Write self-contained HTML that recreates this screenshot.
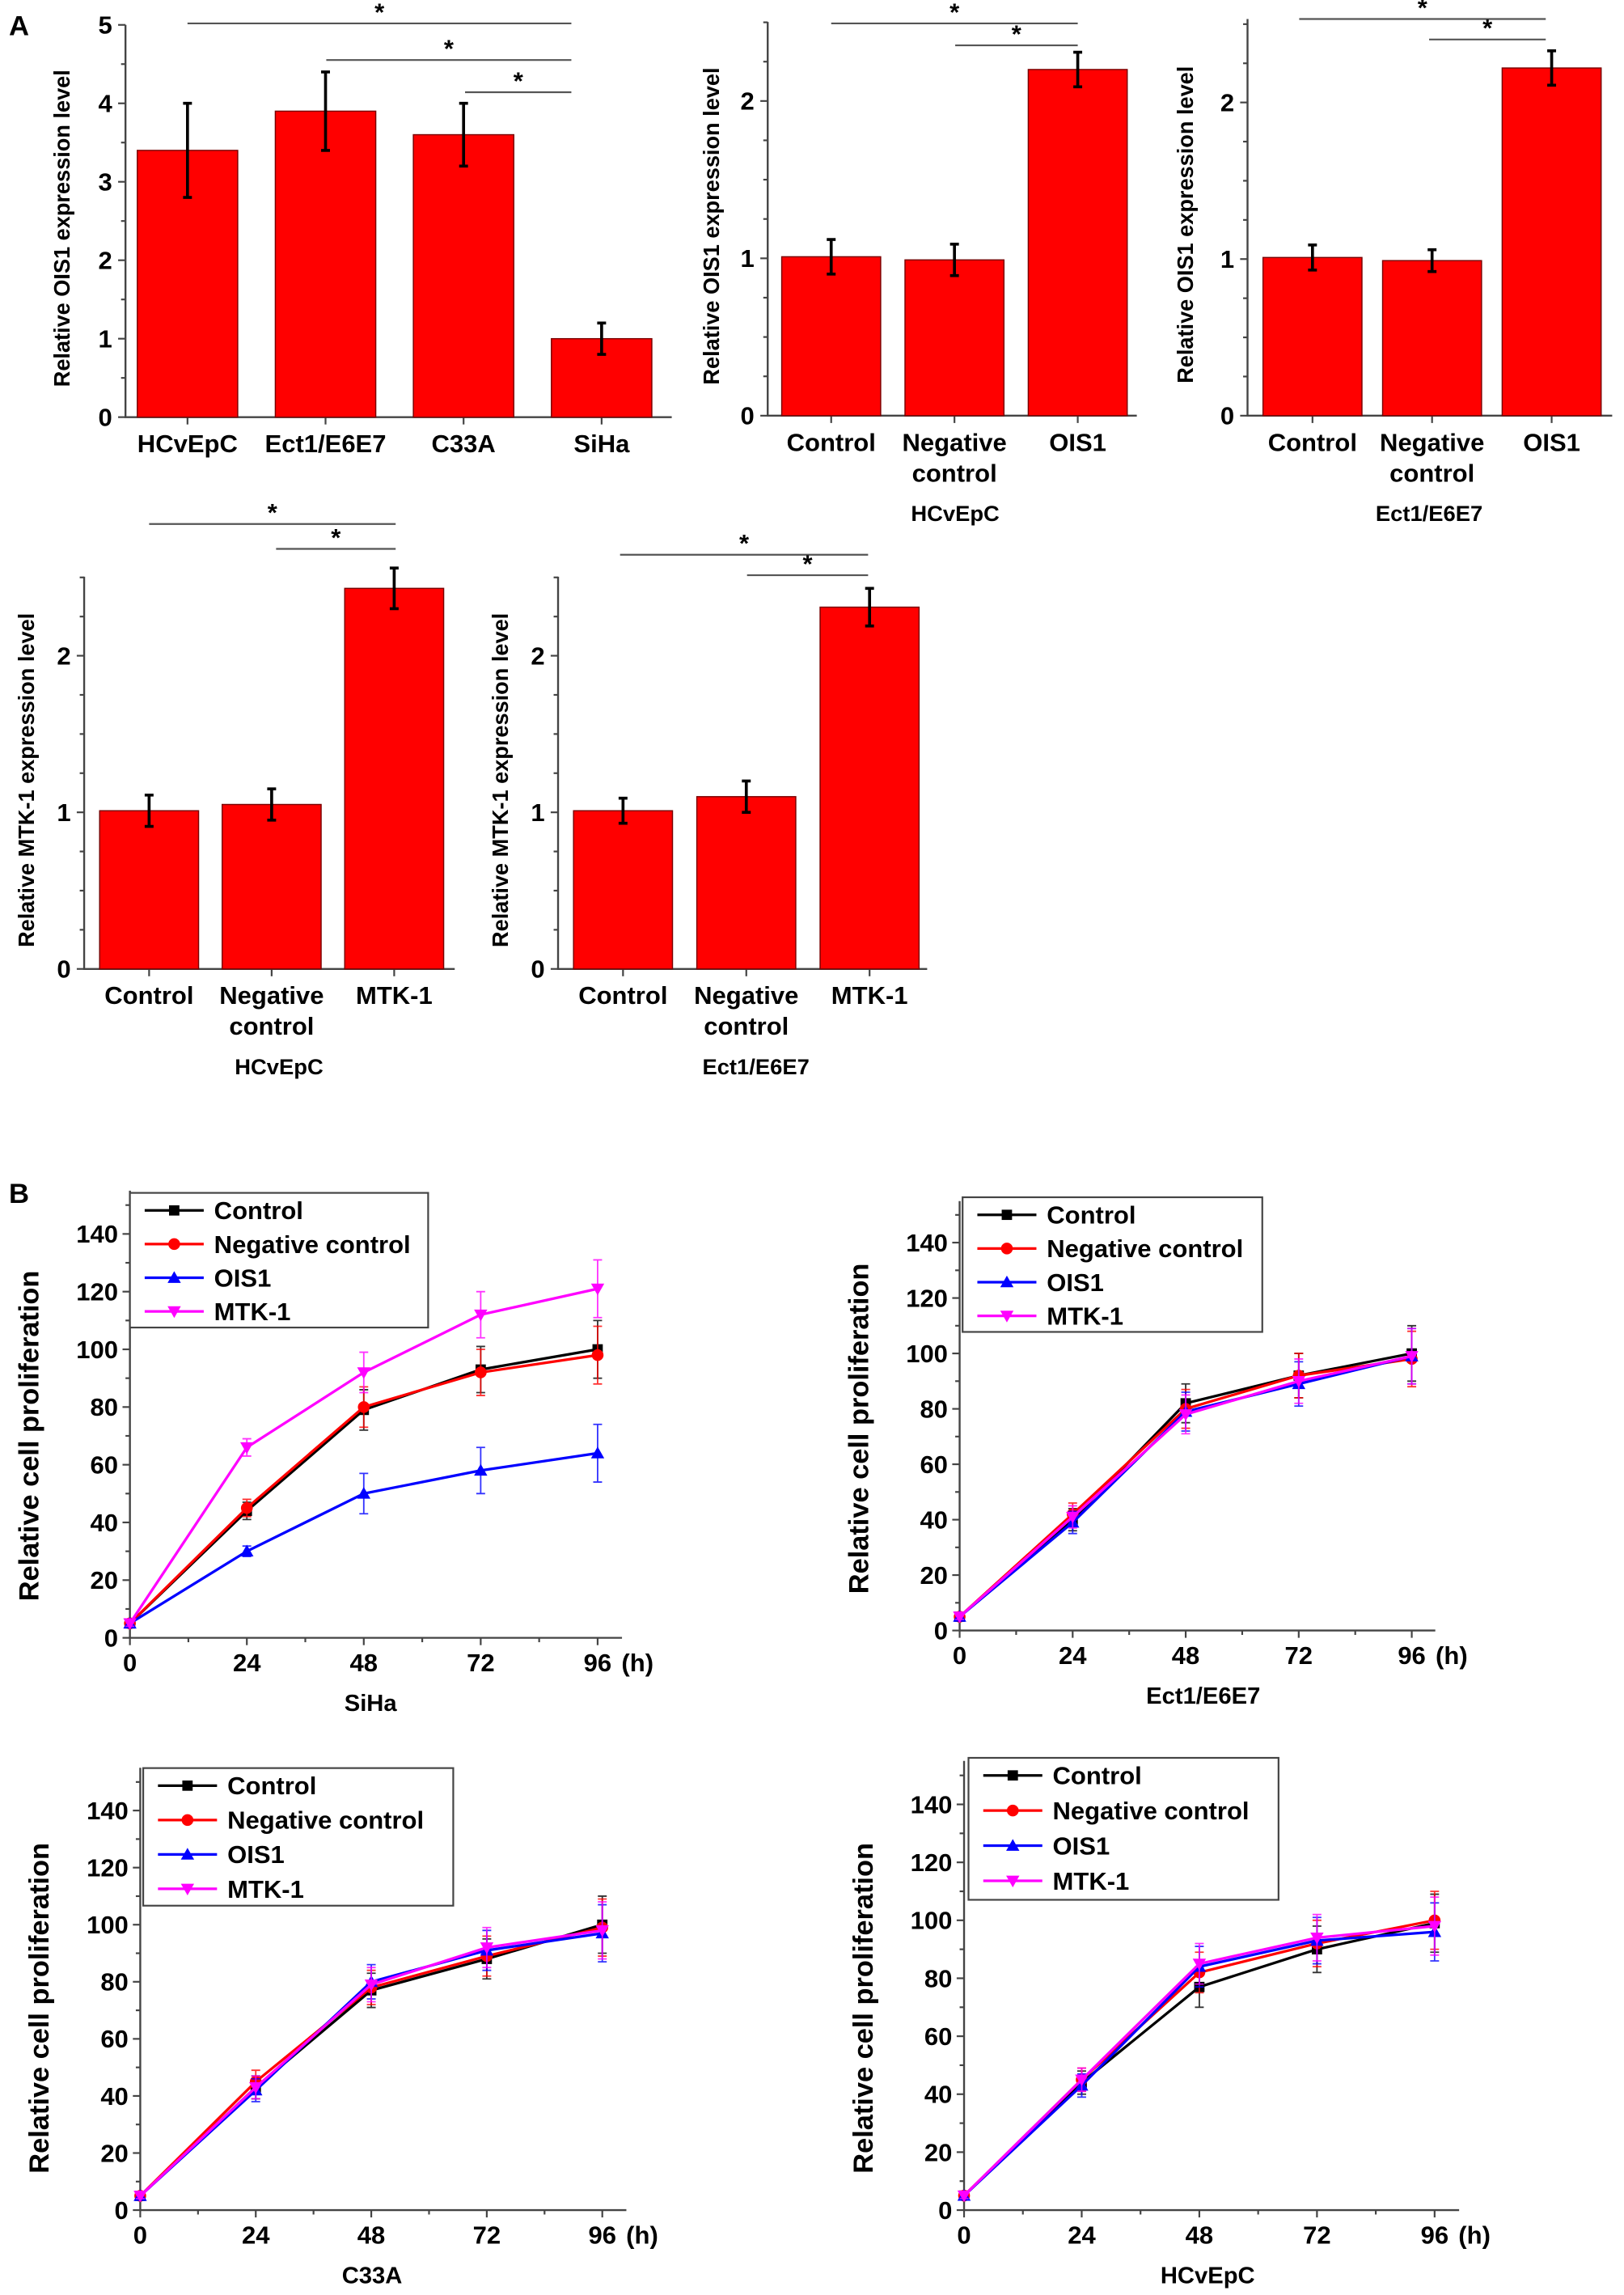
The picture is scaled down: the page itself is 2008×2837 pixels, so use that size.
<!DOCTYPE html>
<html><head><meta charset="utf-8"><style>
html,body{margin:0;padding:0;background:#fff}
svg{display:block}
text{font-family:"Liberation Sans",Arial,sans-serif;fill:#000}
</style></head><body>
<svg id="fig" width="2008" height="2837" viewBox="0 0 1100 1568" preserveAspectRatio="none" xmlns="http://www.w3.org/2000/svg">
<text x="6" y="24" font-family="Liberation Serif" font-weight="bold" font-size="19">A</text>
<text x="6" y="822" font-family="Liberation Serif" font-weight="bold" font-size="19">B</text>
</svg>
<script>
// ---- Panel A data ----
const a1Cats = ["HCvEpC","Ect1/E6E7","C33A","SiHa"];
const a1Vals = [3.4,3.9,3.6,1.0];
const a1Errs = [0.6,0.5,0.4,0.2];
const a2Cats = ["Control","Negative|control","OIS1"];
const a2Vals = [1.01,0.99,2.2];
const a2Errs = [0.11,0.1,0.11];
const a3Vals = [1.01,0.99,2.22];
const a3Errs = [0.08,0.07,0.11];
const a4Cats = ["Control","Negative|control","MTK-1"];
const a4Vals = [1.01,1.05,2.43];
const a4Errs = [0.1,0.1,0.13];
const a5Vals = [1.01,1.1,2.31];
const a5Errs = [0.08,0.1,0.12];
// ---- Panel B data ----
const hours = [0,24,48,72,96];
const seriesNames = ["Control","Negative control","OIS1","MTK-1"];
const sihaControl = [5,44,79,93,100];
const sihaNeg = [5,45,80,92,98];
const sihaOIS1 = [5,30,50,58,64];
const sihaMTK = [5,66,92,112,121];
const sihaErr = [1,3,7,8,10];
const ectControl = [5,40,82,92,100];
const ectNeg = [5,42,80,92,98];
const ectOIS1 = [5,39,79,89,99];
const ectMTK = [5,41,78,90,99];
const ectErr = [1,4,7,8,10];
const c33Control = [5,43,77,88,100];
const c33Neg = [5,45,78,89,99];
const c33OIS1 = [5,42,80,91,97];
const c33MTK = [5,43,79,92,98];
const c33Err = [1,4,6,7,10];
const hcvControl = [5,44,77,90,99];
const hcvNeg = [5,45,82,92,100];
const hcvOIS1 = [5,43,84,93,96];
const hcvMTK = [5,45,85,94,98];
const hcvErr = [1,4,7,8,10];

const NS="http://www.w3.org/2000/svg";
const svg=document.getElementById('fig');
function el(tag,attrs,parent){const e=document.createElementNS(NS,tag);for(const k in attrs)e.setAttribute(k,attrs[k]);(parent||svg).appendChild(e);return e;}
function txt(s,x,y,size,opt,parent){opt=opt||{};const t=el('text',{x:x,y:y,'font-size':size,'text-anchor':opt.anchor||'middle','font-weight':opt.weight||'bold'},parent);if(opt.rot)t.setAttribute('transform','rotate(-90 '+x+' '+y+')');t.textContent=s;return t;}

function barChart(name,cfg,cats,vals,errs){
  const g=el('g',{});
  
  
  const y=v=>cfg.y0-v*cfg.unit;
  const x=i=>cfg.x0+i*cfg.step;
  const ax=el('path',{d:`M${cfg.ax} ${cfg.top}V${cfg.y0}H${cfg.axEnd}`,stroke:'#444','stroke-width':1.3,fill:'none'},g);
  
  
  for(let v=0;v<=cfg.max+1e-9;v+=cfg.minor){
    const major=Math.abs(v/cfg.major-Math.round(v/cfg.major))<1e-6;
    el('line',{x1:cfg.ax-(major?5:3),x2:cfg.ax,y1:y(v),y2:y(v),stroke:'#444','stroke-width':1.2},g);
    if(major){const t=txt(String(Math.round(v)),cfg.ax-9,y(v)+6,17,{anchor:'end'},g);}
  }
  cats.forEach((c,i)=>{
    const cx=x(i);
    el('line',{x1:cx,x2:cx,y1:cfg.y0,y2:cfg.y0+5,stroke:'#444','stroke-width':1.2},g);
    const b=el('rect',{x:cx-cfg.bw/2,y:y(vals[i]),width:cfg.bw,height:vals[i]*cfg.unit,fill:'#ff0000',stroke:'#7a0000','stroke-width':0.8},g);
    
    
    const e1=y(vals[i]+errs[i]),e2=y(vals[i]-errs[i]);
    const eb=el('path',{d:`M${cx} ${e1}V${e2}M${cx-3} ${e1}H${cx+3}M${cx-3} ${e2}H${cx+3}`,stroke:'#000','stroke-width':2,fill:'none'},g);
    
    
    const parts=c.split('|');
    parts.forEach((p,j)=>{const t=txt(p,cx,cfg.y0+24+j*21,cfg.lsize||17,{},g);});
  });
  const yt=txt(cfg.ytitle,cfg.ytx,(cfg.top+cfg.y0)/2+5,cfg.ytsize||15,{rot:1,weight:'bold'},g);
  
  
  if(cfg.xtitle){const xt=txt(cfg.xtitle,cfg.xtx,cfg.y0+72,15,{},g);}
  cfg.sig.forEach(s=>{
    el('line',{x1:s[0],x2:s[1],y1:s[2],y2:s[2],stroke:'#555','stroke-width':1.2},g);
    const st=txt('*',(s[0]+s[1])/2,s[2]-2,17,{},g);
    
    
  });
}

barChart('bar-chart-ois1-cell-lines',{ax:85,axEnd:455,y0:285,unit:53.6,top:17,max:5,major:1,minor:0.5,x0:127,step:93.5,bw:68,ytitle:'Relative OIS1 expression level',ytx:47,ytsize:15,
  sig:[[127,387,16],[221,387,41],[315,387,63]]},a1Cats,a1Vals,a1Errs);
barChart('bar-chart-ois1-hcvepc',{ax:520,axEnd:770,y0:284,unit:107.5,top:15,max:2.5,major:1,minor:0.25,x0:563,step:83.5,bw:67,ytitle:'Relative OIS1 expression level',ytx:487,xtitle:'HCvEpC',xtx:647,
  sig:[[563,730,16],[647,730,31]]},a2Cats,a2Vals,a2Errs);
barChart('bar-chart-ois1-ect1',{ax:845,axEnd:1092,y0:284,unit:107,top:13,max:2.5,major:1,minor:0.25,x0:889,step:81,bw:67,ytitle:'Relative OIS1 expression level',ytx:808,xtitle:'Ect1/E6E7',xtx:968,
  sig:[[880,1047,13],[968,1047,27]]},a2Cats,a3Vals,a3Errs);
barChart('bar-chart-mtk1-hcvepc',{ax:57,axEnd:308,y0:662,unit:107,top:394,max:2.5,major:1,minor:0.25,x0:101,step:83,bw:67,ytitle:'Relative MTK-1 expression level',ytx:23,xtitle:'HCvEpC',xtx:189,
  sig:[[101,268,358],[187,268,375]]},a4Cats,a4Vals,a4Errs);
barChart('bar-chart-mtk1-ect1',{ax:378,axEnd:628,y0:662,unit:107,top:394,max:2.5,major:1,minor:0.25,x0:422,step:83.5,bw:67,ytitle:'Relative MTK-1 expression level',ytx:344,xtitle:'Ect1/E6E7',xtx:512,
  sig:[[420,588,379],[506,588,393]]},a4Cats,a5Vals,a5Errs);

const colors=['#000000','#ff0000','#0000ff','#ff00ff'];
function marker(type,cx,cy,c,g){
  if(type===0)return el('rect',{x:cx-3.5,y:cy-3.5,width:7,height:7,fill:c},g);
  if(type===1)return el('circle',{cx:cx,cy:cy,r:4,fill:c},g);
  if(type===2)return el('path',{d:`M${cx} ${cy-4.5}L${cx+4.5} ${cy+3.5}L${cx-4.5} ${cy+3.5}Z`,fill:c},g);
  return el('path',{d:`M${cx} ${cy+4.5}L${cx+4.5} ${cy-3.5}L${cx-4.5} ${cy-3.5}Z`,fill:c},g);
}
function lineChart(name,cfg,series,err){
  const g=el('g',{});
  
  
  const y=v=>cfg.y0-v*cfg.unit;
  const x=h=>cfg.x0+h*cfg.hx;
  const ax=el('path',{d:`M${cfg.x0} ${y(155)}V${cfg.y0}H${x(101)}`,stroke:'#444','stroke-width':1.3,fill:'none'},g);
  
  
  for(let v=0;v<=150;v+=10){
    const major=v%20===0;
    el('line',{x1:cfg.x0-(major?5:3),x2:cfg.x0,y1:y(v),y2:y(v),stroke:'#444','stroke-width':1.2},g);
    if(major&&v<=140){const t=txt(String(v),cfg.x0-8,y(v)+6,17,{anchor:'end'},g);}
  }
  for(let h=0;h<=100;h+=12){
    const major=h%24===0;
    el('line',{x1:x(h),x2:x(h),y1:cfg.y0,y2:cfg.y0+(major?5:3),stroke:'#444','stroke-width':1.2},g);
  }
  hours.forEach(h=>{const t=txt(String(h),x(h),cfg.y0+23,17,{},g);});
  const hu=txt('(h)',x(96)+27,cfg.y0+23,17,{},g);
  
  
  const xt=txt(cfg.title,cfg.titleX,cfg.y0+50,16,{},g);
  
  
  const yt=txt('Relative cell proliferation',cfg.x0-62,cfg.y0-138,19,{rot:1},g);
  
  
  series.forEach((s,k)=>{
    const sg=el('g',{},g);
    
    
    s.forEach((v,i)=>{
      const e=err[i]*(k===2&&cfg.title==='SiHa'&&i===1?0.6:1);
      el('path',{d:`M${x(hours[i])} ${y(v+e)}V${y(v-e)}M${x(hours[i])-3} ${y(v+e)}H${x(hours[i])+3}M${x(hours[i])-3} ${y(v-e)}H${x(hours[i])+3}`,stroke:colors[k],'stroke-width':1,fill:'none',opacity:0.8},sg);
    });
    el('polyline',{points:s.map((v,i)=>x(hours[i])+','+y(v)).join(' '),stroke:colors[k],'stroke-width':1.8,fill:'none'},sg);
    s.forEach((v,i)=>marker(k,x(hours[i]),y(v),colors[k],sg));
  });
  const L=cfg.leg;
  const lg=el('g',{},g);
  
  
  el('rect',{x:L[0],y:L[1],width:L[2],height:L[3],fill:'#fff',stroke:'#444','stroke-width':1.2},lg);
  seriesNames.forEach((n,k)=>{
    const ly=L[1]+12+k*L[4];
    const e=el('g',{},lg);
    
    
    el('line',{x1:L[0]+10,x2:L[0]+50,y1:ly,y2:ly,stroke:colors[k],'stroke-width':1.8},e);
    marker(k,L[0]+30,ly,colors[k],e);
    txt(n,L[0]+57,ly+6,17,{anchor:'start'},e);
  });
}
lineChart('line-chart-siha',{x0:88,y0:1119,unit:1.971,hx:3.3,title:'SiHa',titleX:251,leg:[88,815,202,92,23]},[sihaControl,sihaNeg,sihaOIS1,sihaMTK],sihaErr);
lineChart('line-chart-ect1',{x0:650,y0:1114,unit:1.893,hx:3.19,title:'Ect1/E6E7',titleX:815,leg:[652,818,203,92,23]},[ectControl,ectNeg,ectOIS1,ectMTK],ectErr);
lineChart('line-chart-c33a',{x0:95,y0:1510,unit:1.95,hx:3.26,title:'C33A',titleX:252,leg:[97,1208,210,94,23.5]},[c33Control,c33Neg,c33OIS1,c33MTK],c33Err);
lineChart('line-chart-hcvepc',{x0:653,y0:1510,unit:1.98,hx:3.32,title:'HCvEpC',titleX:818,leg:[656,1201,210,97,24]},[hcvControl,hcvNeg,hcvOIS1,hcvMTK],hcvErr);
</script>
</body></html>
